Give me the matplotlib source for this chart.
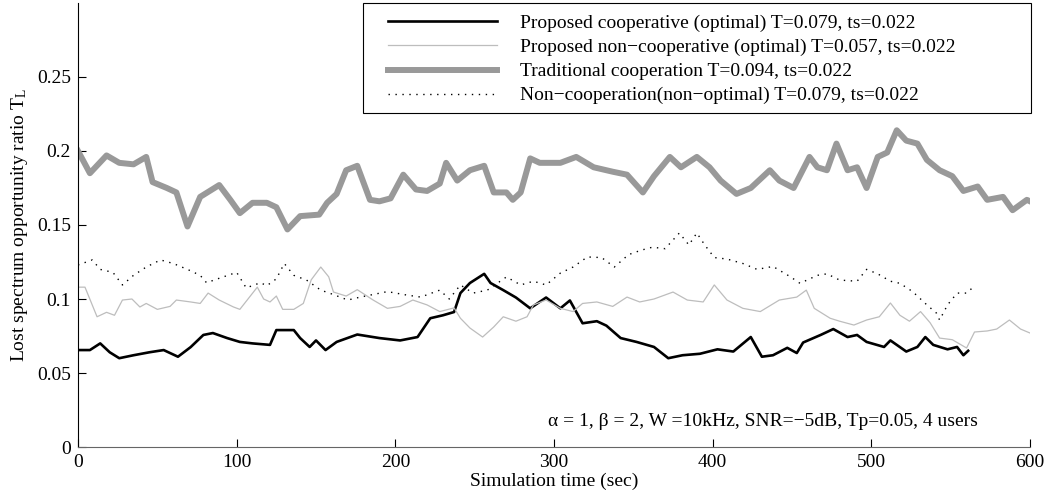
import numpy as np
import matplotlib
matplotlib.use('Agg')
import matplotlib.pyplot as plt
from matplotlib.patches import Rectangle

plt.rcParams['font.family'] = ['Liberation Serif', 'DejaVu Serif']
plt.rcParams['mathtext.fontset'] = 'stix'

# Traditional cooperation (thick gray)
trad_t = [0, 7.5, 18, 26, 35, 43, 47, 56, 62, 69, 77, 89, 96, 102, 110, 119, 125, 132, 140,
          152, 157, 163, 169, 176, 184, 190, 197, 205, 213, 220, 228, 232, 239, 247, 256,
          262, 270, 274, 279, 285, 291, 304, 314, 325, 337, 346, 356, 363, 373, 380, 390,
          398, 405, 415, 424, 436, 442, 451, 461, 466, 472, 478, 485, 491, 497, 504, 510,
          516, 522, 529, 535, 543, 551, 558, 567, 573, 583, 589, 598, 600]
trad_v = [0.200, 0.185, 0.197, 0.192, 0.191, 0.196, 0.179, 0.175, 0.172, 0.149, 0.169, 0.177,
          0.167, 0.158, 0.165, 0.165, 0.162, 0.147, 0.156, 0.157, 0.165, 0.171, 0.187, 0.190,
          0.167, 0.166, 0.168, 0.184, 0.174, 0.173, 0.178, 0.192, 0.180, 0.187, 0.190, 0.172,
          0.172, 0.167, 0.172, 0.195, 0.192, 0.192, 0.196, 0.189, 0.186, 0.184, 0.172, 0.183,
          0.196, 0.189, 0.196, 0.189, 0.180, 0.171, 0.175, 0.187, 0.180, 0.175, 0.196, 0.189,
          0.187, 0.205, 0.187, 0.189, 0.175, 0.196, 0.199, 0.214, 0.207, 0.205, 0.194, 0.187,
          0.183, 0.173, 0.176, 0.167, 0.169, 0.160, 0.167, 0.166]

# Proposed cooperative (black)
coop_t = [0, 7.5, 14, 20, 26, 35, 45, 54, 63, 71, 79, 85, 94, 102, 110, 121, 125, 136, 140,
          146, 150, 156, 163, 176, 190, 203, 214, 222, 230, 237, 241, 247, 256, 260, 268, 276,
          285, 295, 304, 310, 318, 327, 333, 342, 352, 363, 372, 381, 392, 403, 413, 424, 431,
          438, 447, 453, 457, 468, 476, 485, 491, 497, 508, 512, 522, 529, 534, 539, 548, 554,
          558, 561]
coop_v = [0.0655, 0.0655, 0.070, 0.064, 0.060, 0.062, 0.064, 0.0655, 0.061, 0.0675, 0.0757,
          0.077, 0.0736, 0.071, 0.070, 0.069, 0.079, 0.079, 0.0736, 0.0676, 0.072, 0.0655,
          0.071, 0.076, 0.0736, 0.072, 0.0743, 0.087, 0.089, 0.0912, 0.104, 0.1108, 0.117,
          0.1108, 0.106, 0.101, 0.0937, 0.101, 0.0937, 0.099, 0.0836, 0.085, 0.082, 0.0736,
          0.071, 0.0676, 0.060, 0.062, 0.063, 0.066, 0.0645, 0.0743, 0.061, 0.062, 0.067,
          0.0635, 0.0706, 0.0757, 0.0797, 0.0743, 0.0757, 0.071, 0.0676, 0.072, 0.0645,
          0.0676, 0.0743, 0.069, 0.066, 0.0676, 0.062, 0.065]

# Proposed non-cooperative (light gray)
noncoop_t = [0, 4.4, 12, 18, 23, 28, 34, 39, 43, 50, 58, 62, 71, 77, 82, 89, 98, 102, 113,
             117, 121, 125, 129, 136, 142, 147, 153, 158, 161, 169, 176, 186, 195, 203, 211,
             220, 228, 237, 241, 247, 255, 262, 268, 276, 283, 287, 295, 304, 312, 318, 327,
             337, 346, 354, 363, 375, 384, 394, 401, 409, 419, 430, 442, 453, 459, 464, 474,
             480, 489, 497, 505, 512, 518, 524, 531, 537, 543, 551, 560, 565, 573, 579, 587,
             594, 600]
noncoop_v = [0.108, 0.108, 0.088, 0.091, 0.089, 0.0993, 0.100, 0.0946, 0.097, 0.093, 0.095,
             0.0993, 0.098, 0.097, 0.104, 0.0993, 0.0946, 0.093, 0.108, 0.100, 0.098, 0.102,
             0.093, 0.093, 0.097, 0.113, 0.1216, 0.115, 0.1047, 0.102, 0.1063, 0.0993, 0.0937,
             0.095, 0.0993, 0.096, 0.0915, 0.094, 0.087, 0.0804, 0.0743, 0.0811, 0.088, 0.085,
             0.088, 0.096, 0.0993, 0.0937, 0.0915, 0.097, 0.098, 0.095, 0.1013, 0.098, 0.100,
             0.1047, 0.0993, 0.098, 0.1095, 0.0993, 0.0937, 0.0915, 0.0993, 0.1013, 0.106,
             0.0937, 0.087, 0.085, 0.0824, 0.0858, 0.088, 0.0973, 0.089, 0.085, 0.0915, 0.084,
             0.0736, 0.0725, 0.0669, 0.0777, 0.0784, 0.0797, 0.0858, 0.0797, 0.077]

# Non-cooperation (non-optimal), dotted
nonopt_t = [0, 9, 14, 22, 28, 35, 43, 52, 60, 69, 77, 81, 89, 100, 106, 115, 119, 125, 130,
            136, 144, 153, 161, 170, 178, 195, 207, 216, 228, 234, 241, 249, 258, 270, 279,
            287, 295, 304, 312, 321, 330, 338, 347, 355, 362, 370, 379, 385, 390, 395, 401,
            409, 419, 428, 438, 449, 455, 466, 472, 480, 491, 497, 504, 512, 518, 526, 535,
            541, 543, 548, 554, 560, 565]
nonopt_v = [0.123, 0.1264, 0.120, 0.118, 0.1095, 0.116, 0.1216, 0.1264, 0.124, 0.120, 0.116,
            0.111, 0.114, 0.118, 0.1075, 0.111, 0.109, 0.1136, 0.124, 0.116, 0.1128, 0.106,
            0.103, 0.0993, 0.1013, 0.105, 0.1027, 0.1013, 0.106, 0.100, 0.1095, 0.104, 0.106,
            0.1149, 0.1095, 0.112, 0.1095, 0.1175, 0.1216, 0.1284, 0.128, 0.1216, 0.130,
            0.133, 0.135, 0.134, 0.1446, 0.1365, 0.1446, 0.1365, 0.128, 0.127, 0.124, 0.120,
            0.122, 0.115, 0.1106, 0.116, 0.117, 0.1128, 0.112, 0.120, 0.117, 0.112, 0.1106,
            0.105, 0.096, 0.0905, 0.0858, 0.096, 0.104, 0.104, 0.1088]

labels = ['Proposed cooperative (optimal) T=0.079, ts=0.022',
          'Proposed non\u2212cooperative (optimal) T=0.057, ts=0.022',
          'Traditional cooperation T=0.094, ts=0.022',
          'Non\u2212cooperation(non\u2212optimal) T=0.079, ts=0.022']

x_ticks = [0, 100, 200, 300, 400, 500, 600]
y_ticks = [0, 0.05, 0.1, 0.15, 0.2, 0.25]
y_tick_labels = ['0', '0.05', '0.1', '0.15', '0.2', '0.25']

fs = 14
fig = plt.figure(figsize=(10.47, 4.99), dpi=100)
ax = fig.add_axes([0.0745, 0.1042, 0.9093, 0.8898])

l1, = ax.plot(coop_t, coop_v, color='black', lw=1.9)
l2, = ax.plot(noncoop_t, noncoop_v, color='#bdbdbd', lw=0.9)
l3, = ax.plot(trad_t, trad_v, color='#999999', lw=4.3)
l4, = ax.plot(nonopt_t, nonopt_v, color='black', lw=1.0, linestyle=(0, (1, 4)))

ax.set_xlim(0, 600)
ax.set_ylim(0, 0.3)
ax.set_xticks(x_ticks)
ax.set_yticks(y_ticks)
ax.set_yticklabels(y_tick_labels)
ax.tick_params(direction='in', length=6, labelsize=fs, pad=5)
ax.spines['top'].set_visible(False)
ax.spines['right'].set_visible(False)
ax.spines['bottom'].set_color('#666666')

ax.set_xlabel('Simulation time (sec)', fontsize=fs, labelpad=1)
ax.set_ylabel('Lost spectrum opportunity ratio $\\mathregular{T_L}$', fontsize=fs, labelpad=5)

ax.text(567, 0.0175, '\u03b1 = 1, \u03b2 = 2, W =10kHz, SNR=\u22125dB, Tp=0.05, 4 users',
        fontsize=fs, ha='right', va='center')

# legend box drawn separately (matlab style wide padding)
ax.add_patch(Rectangle((0.2994, 0.752), 0.7016, 0.249, transform=ax.transAxes,
                       facecolor='white', edgecolor='black', lw=0.8, zorder=4,
                       clip_on=False))
leg = ax.legend([l1, l2, l3, l4], labels, loc='upper left', bbox_to_anchor=(0.3256, 0.974),
                fontsize=fs, frameon=False, handlelength=5.6, handletextpad=1.2,
                labelspacing=0.33, borderpad=0, borderaxespad=0)
leg.set_zorder(5)

plt.savefig('out.png', dpi=100)
